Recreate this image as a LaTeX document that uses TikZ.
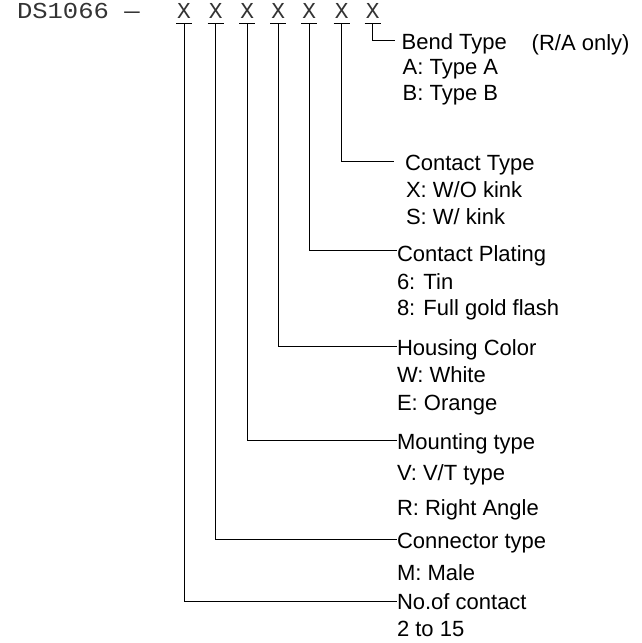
\documentclass[tikz,border=0pt]{standalone}
\usepackage{fontspec}
\setmainfont{Liberation Sans}
\newfontfamily\codefont[FakeStretch=1.12]{Liberation Mono}
\newfontfamily\xfont{Liberation Mono}
\begin{document}
\begin{tikzpicture}[x=1pt,y=-1pt,
  lbl/.style={anchor=base west,inner sep=0pt,outer sep=0pt,font=\fontsize{22}{26}\selectfont},
  hdr/.style={anchor=base west,inner sep=0pt,outer sep=0pt,text=black!80,font=\codefont\fontsize{22.8}{26}\selectfont},
  xch/.style={anchor=base,inner sep=0pt,outer sep=0pt,text=black!80,font=\xfont\fontsize{22.8}{26}\selectfont},
  conn/.style={line width=1pt,black},
  ubar/.style={line width=1pt,black}]
\useasboundingbox (0,0) rectangle (642,643);

% header
\node[hdr] (pn) at (17,18.3) {DS1066 —};
\foreach \i/\xx in {1/184,2/215.7,3/247.3,4/278.3,5/309.3,6/341.7,7/372.7}{
  \node[xch] (x\i) at (\xx,18.3) {X};
  \coordinate (u\i) at ([yshift=-5pt]x\i.base);
  \draw[ubar] ([xshift=-8pt]u\i) -- ([xshift=8pt]u\i);
}

% labels
\node[lbl] (bt) at (401.7,49.5) {Bend Type};
\node[lbl] (ra) at (531.7,50.5) {(R/A only)};
\node[lbl] (bta) at (402.7,74) {A: Type A};
\node[lbl] (btb) at (402.7,100) {B: Type B};

\node[lbl] (ct) at (405,170) {Contact Type};
\node[lbl] (ctx) at (406,197.3) {X: W/O kink};
\node[lbl] (cts) at (406,224) {S: W/ kink};

\node[lbl] (cp) at (397,261.7) {Contact Plating};
\node[lbl] (cp6) at (397,289.3) {6: Tin};
\node[lbl] (cp8) at (397,315.7) {8: Full gold flash};

\node[lbl] (hc) at (397,355) {Housing Color};
\node[lbl] (hcw) at (397,382.3) {W: White};
\node[lbl] (hce) at (397,410.7) {E: Orange};

\node[lbl] (mt) at (397,449) {Mounting type};
\node[lbl] (mtv) at (397,480) {V: V/T type};
\node[lbl] (mtr) at (397,515.7) {R: Right Angle};

\node[lbl] (cn) at (397,548.3) {Connector type};
\node[lbl] (cnm) at (397,580) {M: Male};

\node[lbl] (nc) at (397,609.3) {No.of contact};
\node[lbl] (ncr) at (397,636) {2 to 15};

% connectors
\draw[conn] (u7) |- ([xshift=-6.7pt,yshift=9.5pt]bt.base west);
\draw[conn] (u6) |- ([xshift=-11pt,yshift=8.3pt]ct.base west);
\draw[conn] (u5) |- ([yshift=11pt]cp.base west);
\draw[conn] (u4) |- ([yshift=9pt]hc.base west);
\draw[conn] (u3) |- ([yshift=9pt]mt.base west);
\draw[conn] (u2) |- ([yshift=9pt]cn.base west);
\draw[conn] (u1) |- ([yshift=7.6pt]nc.base west);
\end{tikzpicture}
\end{document}
